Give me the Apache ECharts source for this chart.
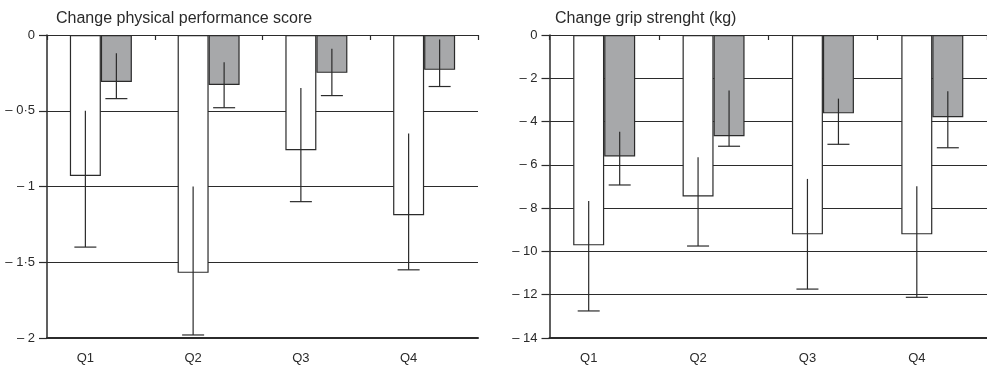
<!DOCTYPE html>
<html><head><meta charset="utf-8">
<script src="https://cdn.jsdelivr.net/npm/echarts@6/dist/echarts.min.js"></script>
<style>html,body{margin:0;padding:0;background:#fff}#c{width:987px;height:366px}</style>
</head><body><div id="c"></div>
<script>
var categories = ['Q1','Q2','Q3','Q4'];
// Left panel: change physical performance score
var ppsWhite = [-0.93, -1.57, -0.76, -1.19];
var ppsWhiteErrHi = [-0.50, -1.00, -0.35, -0.65];
var ppsWhiteErrLo = [-1.40, -1.98, -1.10, -1.55];
var ppsGray = [-0.31, -0.33, -0.25, -0.23];
var ppsGrayErrHi = [-0.12, -0.18, -0.09, -0.03];
var ppsGrayErrLo = [-0.42, -0.48, -0.40, -0.34];
// Right panel: change grip strength (kg)
var gripWhite = [-9.72, -7.46, -9.21, -9.21];
var gripWhiteErrHi = [-7.67, -5.65, -6.65, -6.99];
var gripWhiteErrLo = [-12.75, -9.75, -11.74, -12.12];
var gripGray = [-5.61, -4.68, -3.62, -3.80];
var gripGrayErrHi = [-4.47, -2.57, -2.94, -2.60];
var gripGrayErrLo = [-6.93, -5.14, -5.05, -5.21];

var titles = ['Change physical performance score', 'Change grip strenght (kg)'];

var INK = '#2b2b2b';
var TXT = '#2a2a2a';
var GRAY = '#a7a8aa';
var FONT = '"Liberation Sans", Arial, sans-serif';

function fmtY(v){
  if (v === 0) return '0';
  return '\u2013 ' + String(Math.abs(v)).replace('.', '\u00b7');
}
function errData(lo, hi){ return lo.map(function(l,i){ return [i, l, hi[i]]; }); }
function errRender(sign){
  return function(params, api){
    var x = api.coord([api.value(0), 0])[0] + sign*15.5;
    var pHi = api.coord([api.value(0), api.value(2)]);
    var pLo = api.coord([api.value(0), api.value(1)]);
    var st = {stroke: INK, lineWidth: 1.2};
    return {type:'group', children:[
      {type:'line', shape:{x1:x, y1:pHi[1], x2:x, y2:pLo[1]}, style:st},
      {type:'line', shape:{x1:x-11, y1:pLo[1], x2:x+11, y2:pLo[1]}, style:st}
    ]};
  };
}

var grids = [
  {left:47, top:35, width:431, height:303},
  {left:549.5, top:35, width:437.5, height:303}
];
var yCfg = [{min:-2, max:0, interval:0.5}, {min:-14, max:0, interval:2}];
var panels = [
  [ppsWhite, ppsGray, ppsWhiteErrLo, ppsWhiteErrHi, ppsGrayErrLo, ppsGrayErrHi],
  [gripWhite, gripGray, gripWhiteErrLo, gripWhiteErrHi, gripGrayErrLo, gripGrayErrHi]
];

var xAxis = [], yAxis = [], series = [];
grids.forEach(function(g, k){
  xAxis.push({type:'category', gridIndex:k, data:categories, position:'top', boundaryGap:true,
    axisLine:{onZero:false, lineStyle:{color:INK, width:1.2}},
    axisTick:{show:true, inside:true, length:5, lineStyle:{color:INK, width:1.2}},
    axisLabel:{show:false}, splitLine:{show:false}});
  xAxis.push({type:'category', gridIndex:k, data:categories, position:'bottom', boundaryGap:true,
    axisLine:{onZero:false, lineStyle:{color:INK, width:2}},
    axisTick:{show:false},
    axisLabel:{show:true, color:TXT, fontFamily:FONT, fontSize:13, margin:14, padding:[0,31,0,0]},
    splitLine:{show:false}});
  yAxis.push({type:'value', gridIndex:k, min:yCfg[k].min, max:yCfg[k].max, interval:yCfg[k].interval,
    axisLine:{show:true, lineStyle:{color:INK, width:1.5}},
    axisTick:{show:true, length:8, lineStyle:{color:INK, width:1.2}},
    axisLabel:{color:TXT, fontFamily:FONT, fontSize:13, margin:12, formatter:fmtY},
    splitLine:{show:true, lineStyle:{color:INK, width:1.2}}});
  var d = panels[k];
  series.push({type:'bar', xAxisIndex:2*k, yAxisIndex:k, data:d[0], barWidth:31, barGap:'0%',
    itemStyle:{color:'#fff', borderColor:INK, borderWidth:1.2}, z:3});
  series.push({type:'bar', xAxisIndex:2*k, yAxisIndex:k, data:d[1], barWidth:31, barGap:'0%',
    itemStyle:{color:GRAY, borderColor:INK, borderWidth:1.2}, z:3});
  series.push({type:'custom', xAxisIndex:2*k, yAxisIndex:k, data:errData(d[2], d[3]), renderItem:errRender(-1), z:5});
  series.push({type:'custom', xAxisIndex:2*k, yAxisIndex:k, data:errData(d[4], d[5]), renderItem:errRender(1), z:5});
});

var chart = echarts.init(document.getElementById('c'), null, {renderer:'canvas'});
chart.setOption({
  animation:false,
  backgroundColor:'#fff',
  title:[
    {text:titles[0], left:51, top:6, textStyle:{fontFamily:FONT, fontSize:16, fontWeight:'normal', color:TXT}},
    {text:titles[1], left:550, top:6, textStyle:{fontFamily:FONT, fontSize:16, fontWeight:'normal', color:TXT}}
  ],
  grid:grids,
  xAxis:xAxis,
  yAxis:yAxis,
  series:series
});
</script>
</body></html>
